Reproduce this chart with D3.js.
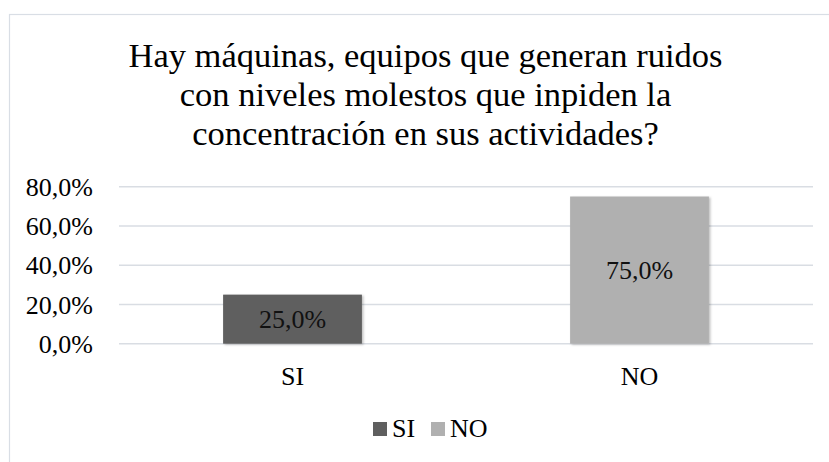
<!DOCTYPE html>
<html><head><meta charset="utf-8">
<script src="https://cdn.jsdelivr.net/npm/d3@7"></script>
<style>html,body{margin:0;padding:0;background:#fff;}svg{display:block;}</style>
</head><body>
<script>
const categories = ["SI", "NO"];
const values = [0.25, 0.75];
const colors = ["#5f5f5f", "#b0b0b0"];
const yTicks = [0, 0.2, 0.4, 0.6, 0.8];
const titleLines = ["Hay máquinas, equipos que generan ruidos", "con niveles molestos que inpiden la", "concentración en sus actividades?"];

const W = 829, H = 462;
const FONT = '"Liberation Serif", "Times New Roman", serif';
const fmt = v => d3.format(".1f")(v * 100).replace(".", ",") + "%";

const svg = d3.select("body").append("svg").attr("width", W).attr("height", H);
const defs = svg.append("defs");
const f = defs.append("filter").attr("id", "sh").attr("x", "-10%").attr("y", "-10%").attr("width", "130%").attr("height", "130%");
f.append("feDropShadow").attr("dx", 1.5).attr("dy", 1).attr("stdDeviation", 1.2).attr("flood-color", "#000").attr("flood-opacity", 0.25);

svg.append("rect").attr("x", 9.5).attr("y", 14.5).attr("width", 900).attr("height", 500)
  .attr("fill", "#fff").attr("stroke", "#d9dee5").attr("stroke-width", 1.2);

// title
svg.append("g").selectAll("text").data(titleLines).join("text")
  .attr("x", 425.5).attr("y", (d, i) => 67 + i * 39)
  .attr("text-anchor", "middle").style("font-family", FONT).style("font-size", "34.5px").attr("fill", "#000")
  .text(d => d);

const x = d3.scaleBand().domain(categories).range([119, 813]);
const y = d3.scaleLinear().domain([0, 0.8]).range([343.7, 186.7]);

// gridlines
svg.append("g").selectAll("line").data(yTicks).join("line")
  .attr("x1", 119).attr("x2", 813).attr("y1", d => y(d)).attr("y2", d => y(d))
  .attr("stroke", "#d9dde3").attr("stroke-width", 1.5);

// y axis labels
const yAxis = d3.axisLeft(y).tickValues(yTicks).tickFormat(fmt).tickSize(0).tickPadding(0);
const ya = svg.append("g").attr("transform", "translate(93,0)").call(yAxis);
ya.select(".domain").remove();
ya.selectAll("text").style("font-family", FONT).style("font-size", "26px").attr("fill", "#000").attr("dy", "0.33em");

// bars
const bw = x.bandwidth() * 0.4;
svg.append("g").selectAll("rect").data(categories).join("rect")
  .attr("x", d => x(d) + (x.bandwidth() - bw) / 2)
  .attr("y", (d, i) => y(values[i]))
  .attr("width", bw)
  .attr("height", (d, i) => y(0) - y(values[i]))
  .attr("fill", (d, i) => colors[i])
  .attr("filter", "url(#sh)");

// data labels
svg.append("g").selectAll("text").data(categories).join("text")
  .attr("x", d => x(d) + x.bandwidth() / 2)
  .attr("y", (d, i) => (y(values[i]) + y(0)) / 2)
  .attr("dy", "0.33em")
  .attr("text-anchor", "middle").style("font-family", FONT).style("font-size", "26px").attr("fill", "#111")
  .text((d, i) => fmt(values[i]));

// x axis labels
const xAxis = d3.axisBottom(x).tickSize(0).tickPadding(0);
const xa = svg.append("g").attr("transform", "translate(0,385)").call(xAxis);
xa.select(".domain").remove();
xa.selectAll("text").style("font-family", FONT).style("font-size", "26px").attr("fill", "#000").attr("dy", 0).attr("y", 0);

// legend
const legX = [373, 431];
const lg = svg.append("g").selectAll("g").data(categories).join("g")
  .attr("transform", (d, i) => `translate(${legX[i]},0)`);
lg.append("rect").attr("x", 0).attr("y", 422).attr("width", 14).attr("height", 14).attr("fill", (d, i) => colors[i]);
lg.append("text").attr("x", 19).attr("y", 436.5).style("font-family", FONT).style("font-size", "26px").attr("fill", "#000").text(d => d);
</script>
</body></html>
